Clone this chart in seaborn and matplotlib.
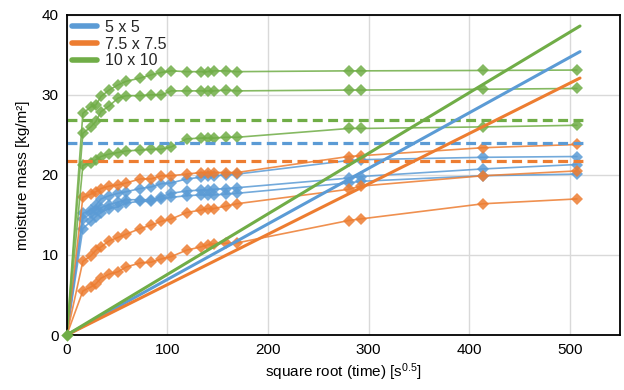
import numpy as np
import pandas as pd
import matplotlib
matplotlib.use("Agg")
import matplotlib.pyplot as plt
import seaborn as sns
from matplotlib.lines import Line2D

# ---- data ----
time = [0, 16, 24, 29, 34, 42, 51, 59, 73, 84, 94, 104, 119, 133, 140, 146, 158, 169, 280, 292, 414, 507]

blue_1 = [0, 15.2, 15.6, 16.2, 17.0, 17.4, 17.7, 17.9, 18.3, 18.5, 18.9, 19.0, 19.5, 19.7, 19.9, 19.9, 20.0, 20.1, 21.8, 21.9, 22.2, 22.3]
blue_2 = [0, 14.5, 15.2, 15.6, 15.9, 16.3, 16.6, 16.9, 16.9, 16.9, 17.3, 17.7, 18.0, 18.1, 18.1, 18.2, 18.3, 18.4, 19.6, 19.8, 20.75, 21.3]
blue_3 = [0, 13.3, 14.2, 14.8, 15.3, 15.8, 16.0, 16.5, 16.7, 16.7, 17.0, 17.2, 17.4, 17.5, 17.5, 17.5, 17.6, 17.7, 19.0, 19.2, 19.9, 20.1]

orange_1 = [0, 17.2, 17.6, 17.9, 18.3, 18.6, 18.75, 19.0, 19.5, 19.5, 19.9, 19.9, 20.1, 20.3, 20.3, 20.3, 20.3, 20.3, 22.3, 22.4, 23.4, 23.8]
orange_2 = [0, 9.2, 9.9, 10.6, 11.0, 11.75, 12.2, 12.6, 13.3, 13.75, 14.2, 14.5, 15.3, 15.6, 15.8, 15.8, 16.1, 16.4, 18.2, 18.6, 19.9, 20.5]
orange_3 = [0, 5.5, 6.0, 6.4, 7.1, 7.6, 7.9, 8.5, 9.0, 9.1, 9.5, 9.8, 10.6, 11.0, 11.25, 11.4, 11.45, 11.5, 14.3, 14.5, 16.4, 17.0]

green_1 = [0, 27.7, 28.5, 28.75, 29.8, 30.6, 31.25, 31.7, 32.1, 32.5, 32.8, 33.0, 32.9, 32.9, 32.9, 33.0, 33.0, 32.9, 33.0, 33.0, 33.05, 33.1]
green_2 = [0, 25.2, 26.0, 26.7, 27.9, 28.6, 29.6, 29.9, 29.9, 30.0, 30.0, 30.5, 30.5, 30.5, 30.5, 30.5, 30.6, 30.5, 30.6, 30.6, 30.7, 30.8]
green_3 = [0, 21.2, 21.5, 21.9, 22.3, 22.6, 22.8, 23.0, 23.1, 23.2, 23.2, 23.5, 24.5, 24.6, 24.6, 24.6, 24.7, 24.7, 25.8, 25.8, 26.0, 26.2]

sizes = ["5 x 5", "7.5 x 7.5", "10 x 10"]
saturation = [24.0, 21.7, 26.9]          # dashed levels
sat_x = [0, 516]
fit_x = [0, 510]
fit_end = [35.4, 32.1, 38.6]             # straight lines from origin

colors = ["#5B9BD5", "#ED7D31", "#70AD47"]
samples = [[blue_1, blue_2, blue_3], [orange_1, orange_2, orange_3], [green_1, green_2, green_3]]

# ---- plot ----
sns.set_theme(style="whitegrid")
plt.rcParams["font.family"] = ["Liberation Sans", "DejaVu Sans"]
plt.rcParams["mathtext.fontset"] = "custom"
plt.rcParams["mathtext.rm"] = "Liberation Sans"
plt.rcParams["mathtext.it"] = "Liberation Sans:italic"
plt.rcParams["mathtext.default"] = "regular"

fig, ax = plt.subplots(figsize=(6.24, 3.9), dpi=100)
fig.subplots_adjust(left=0.107, right=0.994, bottom=0.141, top=0.962)

for col, group in zip(colors, samples):
    for ys in group:
        df = pd.DataFrame({"t": time, "m": ys})
        sns.lineplot(data=df, x="t", y="m", ax=ax, color=col, lw=1.2, alpha=0.85,
                     marker="D", markersize=5.8, markeredgewidth=0, sort=False,
                     legend=False, label="_nolegend_")

for col, lev in zip(colors, saturation):
    df = pd.DataFrame({"t": sat_x, "m": [lev, lev]})
    sns.lineplot(data=df, x="t", y="m", ax=ax, color=col, lw=2.3,
                 legend=False, label="_nolegend_").lines[-1].set_dashes([3.1, 1.7])

for col, end in zip(colors, fit_end):
    df = pd.DataFrame({"t": fit_x, "m": [0, end]})
    sns.lineplot(data=df, x="t", y="m", ax=ax, color=col, lw=2.2, legend=False, label="_nolegend_")

# origin marker on top (as in the reference)
sc = sns.scatterplot(x=[time[0]], y=[green_1[0]], ax=ax, color=colors[2], marker="D", s=40,
                     linewidth=0, zorder=5, legend=False)
ax.collections[-1].set_clip_on(False)

ax.set_xlim(0, 550)
ax.set_ylim(0, 40)
ax.set_xticks([0, 100, 200, 300, 400, 500])
ax.set_yticks([0, 10, 20, 30, 40])
ax.grid(True, color="#D9D9D9", lw=1)
for s in ax.spines.values():
    s.set_color("black")
    s.set_linewidth(1.3)
ax.tick_params(axis="both", labelsize=11, colors="black", length=0, pad=6)
ax.set_xlabel("square root (time) [s$^{0.5}$]", fontsize=11, color="black", labelpad=3)
ax.set_ylabel("moisture mass [kg/m²]", fontsize=11, color="black", labelpad=8)

handles = [Line2D([0], [0], color=c, lw=4) for c in colors]
ax.legend(handles, sizes, loc="upper left", frameon=False, fontsize=11.5,
          handlelength=1.6, handletextpad=0.5, labelspacing=0.12,
          borderaxespad=0.15, borderpad=0.15)

fig.savefig("out.png", dpi=100)
